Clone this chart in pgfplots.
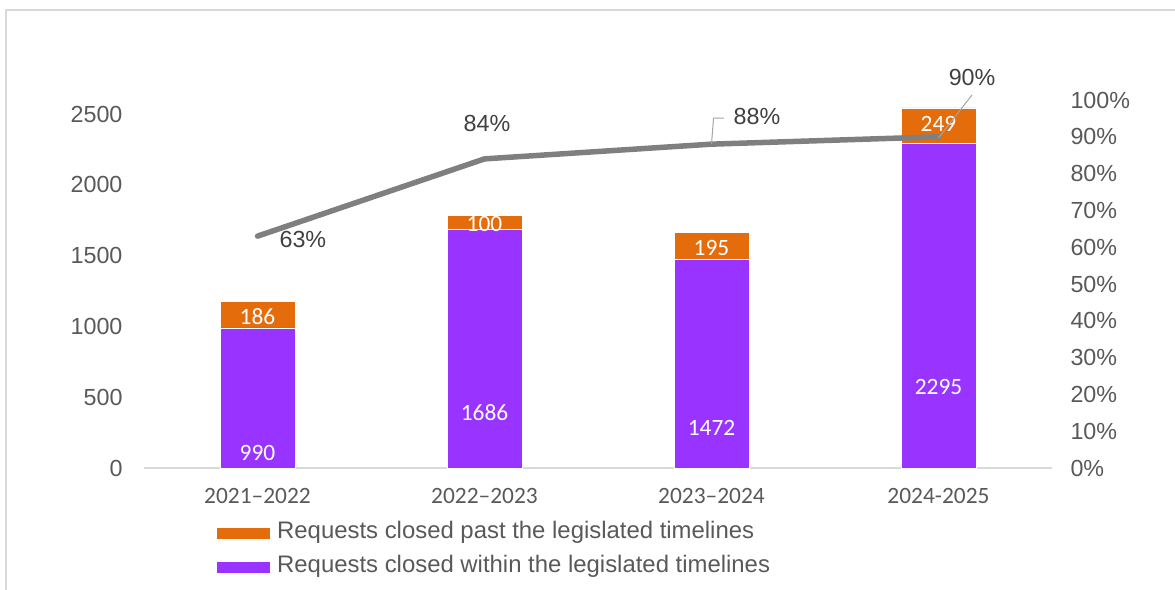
\documentclass[border=0pt]{standalone}
\usepackage{fontspec}
\setmainfont{Liberation Sans}
\newfontfamily\carlito{Carlito}
\usepackage{pgfplots}
\pgfplotsset{compat=1.18}
\definecolor{cOr}{HTML}{E46C0A}
\definecolor{cPu}{HTML}{9933FF}
\definecolor{cLn}{HTML}{7F7F7F}
\definecolor{cTx}{HTML}{595959}
\definecolor{cDk}{HTML}{404040}
\definecolor{cGr}{HTML}{D9D9D9}
\newcommand{\fs}{\fontsize{23.3}{27}\selectfont}
\newcommand{\fl}{\fontsize{23.9}{28}\selectfont}
\newcommand{\fc}{\carlito\fontsize{23.4}{27}\selectfont}
\begin{document}
\begin{tikzpicture}[x=1pt,y=1pt]
\useasboundingbox (0,0) rectangle (1175,589);
\draw[cGr, line width=2pt] (6,-20) -- (6,579) -- (1200,579);
\begin{axis}[
 at={(144pt,121pt)}, anchor=south west,
 width=908pt, height=368pt, scale only axis,
 xmin=-0.5, xmax=3.5, ymin=0, ymax=2600,
 ybar stacked, bar width=75pt,
 axis x line*=bottom, axis y line*=left,
 y axis line style={draw=none},
 x axis line style={cGr, line width=1.5pt, -},
 major tick length=0pt,
 xtick={0,1,2,3}, xticklabels={2021–2022,2022–2023,2023–2024,2024-2025},
 xticklabel style={font=\fc, text=cTx, yshift=-17pt},
 ytick={0,500,...,2500},
 yticklabel style={font=\fs, text=cTx, xshift=-18pt},
 /pgf/number format/assume math mode=true,
 /pgf/number format/1000 sep={},
 scaled y ticks=false,
 clip=false,
]
\addplot[fill=cPu, draw=white, line width=0.4pt] coordinates {(0,990) (1,1686) (2,1472) (3,2295)};
\addplot[fill=cOr, draw=white, line width=0.4pt] coordinates {(0,186) (1,100) (2,195) (3,249)};
\end{axis}
\begin{axis}[
 at={(144pt,121pt)}, anchor=south west,
 width=908pt, height=368pt, scale only axis,
 xmin=-0.5, xmax=3.5, ymin=0, ymax=100,
 axis x line=none, axis y line*=right,
 y axis line style={draw=none},
 major tick length=0pt,
 ytick={0,10,...,100},
 yticklabel={\pgfmathprintnumber{\tick}\%},
 yticklabel style={font=\fs, text=cTx, anchor=west, xshift=15pt},
 /pgf/number format/assume math mode=true,
 clip=false,
]
% bar value labels (positions on the 0-100 scale = count/26)
\node[font=\fc, text=white] at (axis cs:0,4.08) {990};
\node[font=\fc, text=white] at (axis cs:1,15.15) {1686};
\node[font=\fc, text=white] at (axis cs:2,10.85) {1472};
\node[font=\fc, text=white] at (axis cs:3,21.92) {2295};
\node[font=\fc, text=white] at (axis cs:0,41.15) {186};
\node[font=\fc, text=white] at (axis cs:1,66.35) {100};
\node[font=\fc, text=white] at (axis cs:2,59.85) {195};
\node[font=\fc, text=white] at (axis cs:3,93.46) {249};
\addplot[cLn, line width=5.5pt, line cap=round, line join=round, mark=none] coordinates {(0,63) (1,84) (2,88) (3,90)};
\draw[cLn!70, line width=1pt] (axis cs:2.0,88) -- (axis cs:2.009,95.1) -- (axis cs:2.055,95.1);
\draw[cLn!70, line width=1pt] (axis cs:3.0,89.7) -- (axis cs:3.148,101.4);
\node[font=\fs, text=cDk] at (axis cs:0.2,62) {63\%};
\node[font=\fs, text=cDk] at (axis cs:1.011,93.75) {84\%};
\node[font=\fs, text=cDk] at (axis cs:2.2,95.4) {88\%};
\node[font=\fs, text=cDk] at (axis cs:3.148,106) {90\%};
\end{axis}
\fill[cOr] (217,50) rectangle (270,61);
\fill[cPu] (217,16) rectangle (270,27);
\node[font=\fl, text=cTx, anchor=west, inner sep=0pt] at (277,57) {Requests closed past the legislated timelines};
\node[font=\fl, text=cTx, anchor=west, inner sep=0pt] at (277,23) {Requests closed within the legislated timelines};
\end{tikzpicture}
\end{document}
